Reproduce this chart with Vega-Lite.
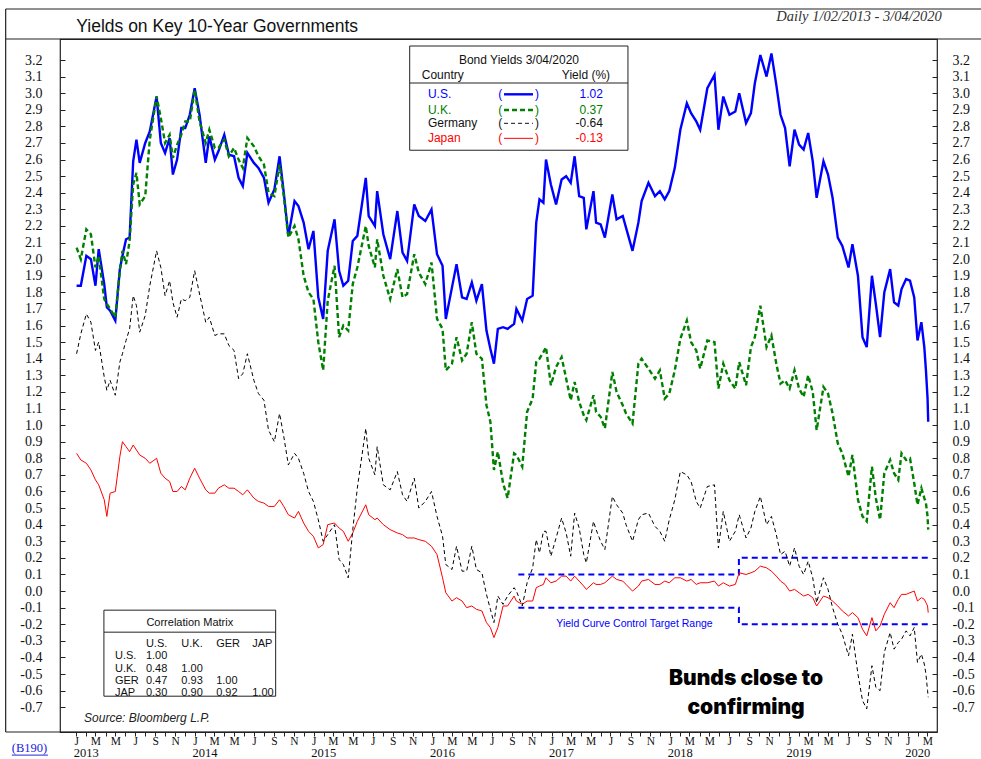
{
"$schema":"https://vega.github.io/schema/vega-lite/v6.json",
"width":877,"height":693,
"autosize":{"type":"none"},
"padding":{"left":60,"top":39,"right":44,"bottom":27},
"background":"white",
"config":{"view":{"stroke":"#222","strokeWidth":1.2},"axis":{"grid":false,"title":null}},
"datasets":{
"yld":[
{"d":"2013-01-02","us":1.84,"uk":2.07,"ger":1.43,"jp":0.83},
{"d":"2013-01-15","us":1.84,"uk":2.00,"ger":1.55,"jp":0.79},
{"d":"2013-02-01","us":2.02,"uk":2.18,"ger":1.67,"jp":0.77},
{"d":"2013-02-15","us":2.00,"uk":2.15,"ger":1.62,"jp":0.73},
{"d":"2013-03-01","us":1.84,"uk":1.95,"ger":1.45,"jp":0.67},
{"d":"2013-03-11","us":2.06,"uk":2.02,"ger":1.50,"jp":0.64},
{"d":"2013-03-28","us":1.85,"uk":1.76,"ger":1.29,"jp":0.55},
{"d":"2013-04-05","us":1.71,"uk":1.73,"ger":1.21,"jp":0.45},
{"d":"2013-04-15","us":1.69,"uk":1.70,"ger":1.27,"jp":0.59},
{"d":"2013-05-01","us":1.63,"uk":1.65,"ger":1.18,"jp":0.60},
{"d":"2013-05-15","us":1.94,"uk":1.93,"ger":1.38,"jp":0.81},
{"d":"2013-05-23","us":2.02,"uk":2.05,"ger":1.43,"jp":0.90},
{"d":"2013-06-03","us":2.12,"uk":1.97,"ger":1.51,"jp":0.87},
{"d":"2013-06-14","us":2.13,"uk":2.11,"ger":1.58,"jp":0.84},
{"d":"2013-06-25","us":2.59,"uk":2.45,"ger":1.78,"jp":0.88},
{"d":"2013-07-05","us":2.72,"uk":2.52,"ger":1.72,"jp":0.85},
{"d":"2013-07-15","us":2.58,"uk":2.33,"ger":1.56,"jp":0.82},
{"d":"2013-08-01","us":2.70,"uk":2.38,"ger":1.66,"jp":0.80},
{"d":"2013-08-15","us":2.77,"uk":2.72,"ger":1.84,"jp":0.77},
{"d":"2013-09-05","us":2.98,"uk":2.98,"ger":2.05,"jp":0.80},
{"d":"2013-09-18","us":2.70,"uk":2.85,"ger":1.95,"jp":0.71},
{"d":"2013-10-01","us":2.64,"uk":2.70,"ger":1.78,"jp":0.68},
{"d":"2013-10-15","us":2.73,"uk":2.75,"ger":1.87,"jp":0.66},
{"d":"2013-10-25","us":2.51,"uk":2.61,"ger":1.74,"jp":0.60},
{"d":"2013-11-07","us":2.60,"uk":2.69,"ger":1.65,"jp":0.60},
{"d":"2013-11-20","us":2.79,"uk":2.75,"ger":1.76,"jp":0.63},
{"d":"2013-12-02","us":2.79,"uk":2.83,"ger":1.75,"jp":0.61},
{"d":"2013-12-16","us":2.87,"uk":2.83,"ger":1.77,"jp":0.68},
{"d":"2013-12-31","us":3.03,"uk":3.02,"ger":1.93,"jp":0.74},
{"d":"2014-01-15","us":2.87,"uk":2.83,"ger":1.79,"jp":0.68},
{"d":"2014-02-03","us":2.58,"uk":2.70,"ger":1.62,"jp":0.61},
{"d":"2014-02-14","us":2.74,"uk":2.78,"ger":1.65,"jp":0.59},
{"d":"2014-03-03","us":2.60,"uk":2.67,"ger":1.54,"jp":0.59},
{"d":"2014-03-14","us":2.65,"uk":2.67,"ger":1.55,"jp":0.62},
{"d":"2014-04-01","us":2.75,"uk":2.72,"ger":1.55,"jp":0.64},
{"d":"2014-04-15","us":2.63,"uk":2.62,"ger":1.48,"jp":0.62},
{"d":"2014-05-01","us":2.62,"uk":2.67,"ger":1.45,"jp":0.62},
{"d":"2014-05-15","us":2.49,"uk":2.60,"ger":1.28,"jp":0.60},
{"d":"2014-05-28","us":2.44,"uk":2.55,"ger":1.31,"jp":0.58},
{"d":"2014-06-11","us":2.64,"uk":2.73,"ger":1.43,"jp":0.61},
{"d":"2014-07-01","us":2.58,"uk":2.68,"ger":1.27,"jp":0.56},
{"d":"2014-07-15","us":2.55,"uk":2.62,"ger":1.19,"jp":0.54},
{"d":"2014-08-01","us":2.49,"uk":2.57,"ger":1.15,"jp":0.53},
{"d":"2014-08-15","us":2.34,"uk":2.40,"ger":0.97,"jp":0.51},
{"d":"2014-09-02","us":2.42,"uk":2.38,"ger":0.90,"jp":0.51},
{"d":"2014-09-18","us":2.62,"uk":2.57,"ger":1.07,"jp":0.55},
{"d":"2014-10-01","us":2.40,"uk":2.38,"ger":0.93,"jp":0.51},
{"d":"2014-10-15","us":2.14,"uk":2.13,"ger":0.76,"jp":0.46},
{"d":"2014-11-03","us":2.35,"uk":2.20,"ger":0.83,"jp":0.44},
{"d":"2014-11-15","us":2.32,"uk":2.12,"ger":0.80,"jp":0.48},
{"d":"2014-12-01","us":2.22,"uk":1.90,"ger":0.71,"jp":0.41},
{"d":"2014-12-16","us":2.06,"uk":1.80,"ger":0.60,"jp":0.36},
{"d":"2014-12-31","us":2.17,"uk":1.76,"ger":0.54,"jp":0.33},
{"d":"2015-01-15","us":1.77,"uk":1.50,"ger":0.43,"jp":0.26},
{"d":"2015-01-30","us":1.64,"uk":1.33,"ger":0.30,"jp":0.28},
{"d":"2015-02-13","us":2.05,"uk":1.75,"ger":0.34,"jp":0.40},
{"d":"2015-03-06","us":2.24,"uk":1.96,"ger":0.40,"jp":0.41},
{"d":"2015-03-20","us":1.93,"uk":1.53,"ger":0.19,"jp":0.38},
{"d":"2015-04-02","us":1.84,"uk":1.60,"ger":0.16,"jp":0.36},
{"d":"2015-04-17","us":1.87,"uk":1.57,"ger":0.08,"jp":0.30},
{"d":"2015-05-01","us":2.11,"uk":1.85,"ger":0.37,"jp":0.35},
{"d":"2015-05-15","us":2.14,"uk":1.95,"ger":0.62,"jp":0.42},
{"d":"2015-06-10","us":2.49,"uk":2.20,"ger":0.98,"jp":0.52},
{"d":"2015-06-19","us":2.26,"uk":2.08,"ger":0.80,"jp":0.46},
{"d":"2015-07-08","us":2.20,"uk":1.95,"ger":0.70,"jp":0.43},
{"d":"2015-07-15","us":2.41,"uk":2.12,"ger":0.87,"jp":0.44},
{"d":"2015-08-03","us":2.15,"uk":1.90,"ger":0.64,"jp":0.40},
{"d":"2015-08-24","us":2.00,"uk":1.76,"ger":0.61,"jp":0.37},
{"d":"2015-09-15","us":2.29,"uk":1.94,"ger":0.72,"jp":0.35},
{"d":"2015-10-01","us":2.04,"uk":1.77,"ger":0.58,"jp":0.34},
{"d":"2015-10-15","us":1.99,"uk":1.79,"ger":0.54,"jp":0.32},
{"d":"2015-11-06","us":2.33,"uk":2.03,"ger":0.68,"jp":0.32},
{"d":"2015-11-20","us":2.26,"uk":1.92,"ger":0.50,"jp":0.31},
{"d":"2015-12-10","us":2.23,"uk":1.85,"ger":0.54,"jp":0.30},
{"d":"2015-12-29","us":2.30,"uk":1.98,"ger":0.60,"jp":0.27},
{"d":"2016-01-15","us":2.03,"uk":1.64,"ger":0.45,"jp":0.22},
{"d":"2016-02-01","us":1.96,"uk":1.58,"ger":0.33,"jp":0.08},
{"d":"2016-02-11","us":1.64,"uk":1.33,"ger":0.16,"jp":-0.01},
{"d":"2016-03-01","us":1.83,"uk":1.37,"ger":0.13,"jp":-0.06},
{"d":"2016-03-15","us":1.97,"uk":1.53,"ger":0.27,"jp":-0.04},
{"d":"2016-04-01","us":1.77,"uk":1.39,"ger":0.12,"jp":-0.06},
{"d":"2016-04-15","us":1.76,"uk":1.43,"ger":0.12,"jp":-0.10},
{"d":"2016-05-01","us":1.86,"uk":1.62,"ger":0.27,"jp":-0.09},
{"d":"2016-05-15","us":1.75,"uk":1.43,"ger":0.13,"jp":-0.11},
{"d":"2016-06-01","us":1.85,"uk":1.40,"ger":0.11,"jp":-0.12},
{"d":"2016-06-15","us":1.57,"uk":1.12,"ger":-0.02,"jp":-0.19},
{"d":"2016-06-27","us":1.46,"uk":1.02,"ger":-0.11,"jp":-0.22},
{"d":"2016-07-08","us":1.37,"uk":0.73,"ger":-0.19,"jp":-0.28},
{"d":"2016-07-20","us":1.58,"uk":0.84,"ger":-0.03,"jp":-0.22},
{"d":"2016-08-05","us":1.59,"uk":0.65,"ger":-0.08,"jp":-0.09},
{"d":"2016-08-19","us":1.58,"uk":0.56,"ger":-0.03,"jp":-0.09},
{"d":"2016-09-08","us":1.61,"uk":0.83,"ger":0.02,"jp":-0.03},
{"d":"2016-09-15","us":1.70,"uk":0.82,"ger":0.00,"jp":-0.06},
{"d":"2016-10-03","us":1.63,"uk":0.75,"ger":-0.09,"jp":-0.08},
{"d":"2016-10-18","us":1.76,"uk":1.08,"ger":0.05,"jp":-0.06},
{"d":"2016-11-04","us":1.78,"uk":1.16,"ger":0.14,"jp":-0.06},
{"d":"2016-11-15","us":2.22,"uk":1.38,"ger":0.31,"jp":0.02},
{"d":"2016-11-25","us":2.36,"uk":1.40,"ger":0.23,"jp":0.03},
{"d":"2016-12-07","us":2.34,"uk":1.44,"ger":0.36,"jp":0.04},
{"d":"2016-12-15","us":2.60,"uk":1.47,"ger":0.36,"jp":0.08},
{"d":"2016-12-30","us":2.45,"uk":1.24,"ger":0.21,"jp":0.05},
{"d":"2017-01-15","us":2.33,"uk":1.35,"ger":0.32,"jp":0.06},
{"d":"2017-02-01","us":2.48,"uk":1.41,"ger":0.44,"jp":0.09},
{"d":"2017-02-15","us":2.50,"uk":1.28,"ger":0.35,"jp":0.09},
{"d":"2017-03-01","us":2.46,"uk":1.15,"ger":0.21,"jp":0.06},
{"d":"2017-03-13","us":2.62,"uk":1.26,"ger":0.47,"jp":0.09},
{"d":"2017-03-27","us":2.38,"uk":1.14,"ger":0.38,"jp":0.06},
{"d":"2017-04-10","us":2.37,"uk":1.06,"ger":0.22,"jp":0.03},
{"d":"2017-04-18","us":2.18,"uk":1.03,"ger":0.17,"jp":0.01},
{"d":"2017-05-10","us":2.41,"uk":1.18,"ger":0.42,"jp":0.05},
{"d":"2017-05-18","us":2.22,"uk":1.08,"ger":0.37,"jp":0.04},
{"d":"2017-06-01","us":2.21,"uk":1.05,"ger":0.30,"jp":0.04},
{"d":"2017-06-14","us":2.13,"uk":0.98,"ger":0.25,"jp":0.05},
{"d":"2017-07-07","us":2.39,"uk":1.32,"ger":0.57,"jp":0.09},
{"d":"2017-07-20","us":2.24,"uk":1.20,"ger":0.52,"jp":0.07},
{"d":"2017-08-08","us":2.26,"uk":1.12,"ger":0.47,"jp":0.06},
{"d":"2017-08-18","us":2.19,"uk":1.07,"ger":0.40,"jp":0.04},
{"d":"2017-09-07","us":2.05,"uk":1.01,"ger":0.30,"jp":0.00},
{"d":"2017-09-25","us":2.22,"uk":1.37,"ger":0.43,"jp":0.03},
{"d":"2017-10-05","us":2.35,"uk":1.40,"ger":0.46,"jp":0.06},
{"d":"2017-10-26","us":2.46,"uk":1.34,"ger":0.47,"jp":0.07},
{"d":"2017-11-15","us":2.38,"uk":1.28,"ger":0.39,"jp":0.04},
{"d":"2017-11-30","us":2.41,"uk":1.33,"ger":0.36,"jp":0.04},
{"d":"2017-12-15","us":2.36,"uk":1.16,"ger":0.30,"jp":0.06},
{"d":"2017-12-29","us":2.41,"uk":1.19,"ger":0.43,"jp":0.05},
{"d":"2018-01-15","us":2.55,"uk":1.33,"ger":0.55,"jp":0.08},
{"d":"2018-02-01","us":2.78,"uk":1.52,"ger":0.72,"jp":0.08},
{"d":"2018-02-21","us":2.94,"uk":1.63,"ger":0.70,"jp":0.06},
{"d":"2018-03-06","us":2.88,"uk":1.50,"ger":0.66,"jp":0.07},
{"d":"2018-03-22","us":2.83,"uk":1.45,"ger":0.54,"jp":0.04},
{"d":"2018-04-03","us":2.78,"uk":1.34,"ger":0.50,"jp":0.05},
{"d":"2018-04-25","us":3.03,"uk":1.51,"ger":0.63,"jp":0.05},
{"d":"2018-05-17","us":3.11,"uk":1.50,"ger":0.64,"jp":0.06},
{"d":"2018-05-29","us":2.78,"uk":1.22,"ger":0.26,"jp":0.03},
{"d":"2018-06-13","us":2.98,"uk":1.37,"ger":0.48,"jp":0.05},
{"d":"2018-07-02","us":2.87,"uk":1.27,"ger":0.30,"jp":0.03},
{"d":"2018-07-20","us":2.89,"uk":1.22,"ger":0.36,"jp":0.04},
{"d":"2018-08-01","us":3.00,"uk":1.38,"ger":0.46,"jp":0.11},
{"d":"2018-08-22","us":2.82,"uk":1.24,"ger":0.32,"jp":0.10},
{"d":"2018-09-06","us":2.88,"uk":1.47,"ger":0.38,"jp":0.11},
{"d":"2018-09-18","us":3.06,"uk":1.53,"ger":0.48,"jp":0.12},
{"d":"2018-10-05","us":3.23,"uk":1.72,"ger":0.57,"jp":0.15},
{"d":"2018-10-24","us":3.10,"uk":1.47,"ger":0.40,"jp":0.14},
{"d":"2018-11-08","us":3.24,"uk":1.54,"ger":0.45,"jp":0.12},
{"d":"2018-11-23","us":3.05,"uk":1.37,"ger":0.34,"jp":0.09},
{"d":"2018-12-06","us":2.87,"uk":1.25,"ger":0.22,"jp":0.06},
{"d":"2018-12-20","us":2.79,"uk":1.27,"ger":0.24,"jp":0.04},
{"d":"2019-01-03","us":2.56,"uk":1.22,"ger":0.15,"jp":0.00},
{"d":"2019-01-18","us":2.78,"uk":1.33,"ger":0.26,"jp":0.01},
{"d":"2019-02-01","us":2.69,"uk":1.22,"ger":0.15,"jp":-0.01},
{"d":"2019-02-15","us":2.66,"uk":1.17,"ger":0.10,"jp":-0.03},
{"d":"2019-03-01","us":2.76,"uk":1.30,"ger":0.18,"jp":-0.02},
{"d":"2019-03-15","us":2.59,"uk":1.20,"ger":0.08,"jp":-0.04},
{"d":"2019-03-27","us":2.37,"uk":0.97,"ger":-0.07,"jp":-0.09},
{"d":"2019-04-17","us":2.59,"uk":1.23,"ger":0.08,"jp":-0.03},
{"d":"2019-05-01","us":2.51,"uk":1.19,"ger":0.01,"jp":-0.04},
{"d":"2019-05-15","us":2.37,"uk":1.07,"ger":-0.10,"jp":-0.06},
{"d":"2019-05-31","us":2.13,"uk":0.89,"ger":-0.20,"jp":-0.09},
{"d":"2019-06-14","us":2.08,"uk":0.83,"ger":-0.26,"jp":-0.12},
{"d":"2019-07-03","us":1.95,"uk":0.69,"ger":-0.39,"jp":-0.15},
{"d":"2019-07-15","us":2.09,"uk":0.82,"ger":-0.26,"jp":-0.13},
{"d":"2019-08-01","us":1.90,"uk":0.55,"ger":-0.50,"jp":-0.16},
{"d":"2019-08-15","us":1.53,"uk":0.45,"ger":-0.66,"jp":-0.23},
{"d":"2019-08-28","us":1.47,"uk":0.42,"ger":-0.71,"jp":-0.27},
{"d":"2019-09-13","us":1.90,"uk":0.75,"ger":-0.45,"jp":-0.16},
{"d":"2019-09-25","us":1.73,"uk":0.56,"ger":-0.58,"jp":-0.24},
{"d":"2019-10-08","us":1.53,"uk":0.43,"ger":-0.60,"jp":-0.21},
{"d":"2019-10-21","us":1.80,"uk":0.71,"ger":-0.37,"jp":-0.14},
{"d":"2019-11-08","us":1.94,"uk":0.79,"ger":-0.25,"jp":-0.07},
{"d":"2019-11-20","us":1.74,"uk":0.71,"ger":-0.35,"jp":-0.10},
{"d":"2019-12-03","us":1.72,"uk":0.67,"ger":-0.31,"jp":-0.05},
{"d":"2019-12-13","us":1.82,"uk":0.83,"ger":-0.29,"jp":-0.02},
{"d":"2019-12-27","us":1.88,"uk":0.79,"ger":-0.24,"jp":-0.02},
{"d":"2020-01-08","us":1.87,"uk":0.80,"ger":-0.27,"jp":-0.01},
{"d":"2020-01-21","us":1.77,"uk":0.65,"ger":-0.22,"jp":0.00},
{"d":"2020-01-31","us":1.51,"uk":0.52,"ger":-0.43,"jp":-0.06},
{"d":"2020-02-12","us":1.62,"uk":0.62,"ger":-0.38,"jp":-0.04},
{"d":"2020-02-21","us":1.47,"uk":0.56,"ger":-0.44,"jp":-0.05},
{"d":"2020-02-26","us":1.33,"uk":0.53,"ger":-0.50,"jp":-0.07},
{"d":"2020-03-02","us":1.16,"uk":0.45,"ger":-0.60,"jp":-0.09},
{"d":"2020-03-04","us":1.02,"uk":0.37,"ger":-0.64,"jp":-0.13}
],
"ycc":[
{"g":"up","i":1,"d":"2016-09-21","v":0.1},{"g":"up","i":2,"d":"2018-07-31","v":0.1},{"g":"up","i":3,"d":"2018-07-31","v":0.2},{"g":"up","i":4,"d":"2020-03-04","v":0.2},
{"g":"lo","i":1,"d":"2016-09-21","v":-0.1},{"g":"lo","i":2,"d":"2018-07-31","v":-0.1},{"g":"lo","i":3,"d":"2018-07-31","v":-0.2},{"g":"lo","i":4,"d":"2020-03-04","v":-0.2}
]
},
"resolve":{"axis":{"x":"independent","y":"independent"}},
"layer":[
{"data":{"values":[{}]},"mark":{"type":"rule","color":"#222","strokeWidth":1.2},"encoding":{"x":{"datum":{"year":2012,"month":5,"date":29,"utc":true},"type":"temporal","axis":null},"x2":{"datum":{"year":2020,"month":8,"date":14,"utc":true}},"y":{"datum":3.5075,"type":"quantitative","axis":null}}},
{"data":{"values":[{}]},"mark":{"type":"rule","color":"#222","strokeWidth":1.2},"encoding":{"x":{"datum":{"year":2012,"month":5,"date":29,"utc":true},"type":"temporal","axis":null},"x2":{"datum":{"year":2020,"month":8,"date":14,"utc":true}},"y":{"datum":3.3267,"type":"quantitative","axis":null}}},
{"data":{"values":[{}]},"mark":{"type":"rule","color":"#222","strokeWidth":1.2},"encoding":{"x":{"datum":{"year":2012,"month":5,"date":29,"utc":true},"type":"temporal","axis":null},"x2":{"datum":{"year":2020,"month":3,"date":31,"utc":true}},"y":{"datum":-0.8493,"type":"quantitative","axis":null}}},
{"data":{"values":[{}]},"mark":{"type":"rule","color":"#222","strokeWidth":1.2},"encoding":{"x":{"datum":{"year":2012,"month":5,"date":29,"utc":true},"type":"temporal","axis":null},"y":{"datum":3.5075,"type":"quantitative","axis":null},"y2":{"datum":-0.8493}}},
{"data":{"name":"ycc"},"mark":{"type":"line","color":"#0000ff","strokeWidth":2,"strokeDash":[6,4]},"encoding":{"x":{"field":"d","type":"temporal","axis":null},"y":{"field":"v","type":"quantitative","axis":null},"detail":{"field":"g"},"order":{"field":"i"}}},
{"data":{"name":"yld"},"mark":{"type":"line","color":"#ff0000","strokeWidth":1},"encoding":{"x":{"field":"d","type":"temporal","axis":null},"y":{"field":"jp","type":"quantitative","axis":null}}},
{"data":{"name":"yld"},"mark":{"type":"line","color":"#000000","strokeWidth":1,"strokeDash":[4,3]},"encoding":{"x":{"field":"d","type":"temporal","axis":null},"y":{"field":"ger","type":"quantitative","axis":null}}},
{"data":{"name":"yld"},"mark":{"type":"line","color":"#0000ff","strokeWidth":2.4},"encoding":{
"x":{"field":"d","type":"temporal","scale":{"type":"utc","domain":[{"year":2012,"month":11,"date":12,"utc":true},{"year":2020,"month":3,"date":31,"utc":true}]},
"axis":{"orient":"bottom","tickCount":{"interval":"month","step":1},"labelExpr":"utcmonth(datum.value) % 2 == 0 ? substring(utcFormat(datum.value, '%b'), 0, 1) : ''","tickSize":4,"tickColor":{"condition":{"test":"datum.value < utc(2013,0,1)","value":"transparent"},"value":"#222"},"labelPadding":-1,"labelFont":"Liberation Serif","labelFontSize":11.5,"labelColor":"#111","labelFlush":false,"labelOverlap":false,"labelBound":false,"domain":false,"grid":false,"title":null}},
"y":{"field":"us","type":"quantitative","scale":{"domain":[-0.8493,3.3267],"nice":false,"zero":false},
"axis":{"orient":"left","values":[-0.7,-0.6,-0.5,-0.4,-0.3,-0.2,-0.1,0,0.1,0.2,0.3,0.4,0.5,0.6,0.7,0.8,0.9,1,1.1,1.2,1.3,1.4,1.5,1.6,1.7,1.8,1.9,2,2.1,2.2,2.3,2.4,2.5,2.6,2.7,2.8,2.9,3,3.1,3.2],"labelExpr":"datum.value < 0 ? '-' + format(-datum.value, '.1f') : format(datum.value, '.1f')","tickSize":-5,"tickColor":"#222","labelPadding":23,"labelFont":"Liberation Serif","labelFontSize":14,"labelColor":"#111","domain":false,"grid":false,"title":null,"labelOverlap":false,"labelBound":false,"labelFlush":false}}}},
{"data":{"name":"yld"},"mark":{"type":"line","color":"#008000","strokeWidth":2.4,"strokeDash":[5,3]},"encoding":{
"x":{"field":"d","type":"temporal","scale":{"type":"utc","domain":[{"year":2012,"month":11,"date":12,"utc":true},{"year":2020,"month":3,"date":31,"utc":true}]},
"axis":{"orient":"bottom","tickCount":{"interval":"year","step":1},"labelExpr":"utcFormat(datum.value, '%Y')","ticks":false,"domain":false,"grid":false,"labelPadding":14.5,"labelAlign":"left","labelOffset":-3,"labelFont":"Liberation Serif","labelFontSize":12.5,"labelColor":"#111","labelFlush":false,"labelOverlap":false,"labelBound":false,"title":null}},
"y":{"field":"uk","type":"quantitative","scale":{"domain":[-0.8493,3.3267],"nice":false,"zero":false},
"axis":{"orient":"right","values":[-0.7,-0.6,-0.5,-0.4,-0.3,-0.2,-0.1,0,0.1,0.2,0.3,0.4,0.5,0.6,0.7,0.8,0.9,1,1.1,1.2,1.3,1.4,1.5,1.6,1.7,1.8,1.9,2,2.1,2.2,2.3,2.4,2.5,2.6,2.7,2.8,2.9,3,3.1,3.2],"labelExpr":"datum.value < 0 ? '-' + format(-datum.value, '.1f') : format(datum.value, '.1f')","tickSize":-5,"tickColor":"#222","labelPadding":20,"labelFont":"Liberation Serif","labelFontSize":14,"labelColor":"#111","domain":false,"grid":false,"title":null,"labelOverlap":false,"labelBound":false,"labelFlush":false}}}},

{"data":{"values":[{}]},"mark":{"type":"rect","fill":"white","stroke":"#222","strokeWidth":1},"encoding":{"x":{"datum":{"year":2015,"month":10,"date":23,"utc":true},"type":"temporal","axis":null},"x2":{"datum":{"year":2017,"month":8,"date":24,"utc":true}},"y":{"datum":3.2845,"type":"quantitative","axis":null},"y2":{"datum":2.6564}}},
{"data":{"values":[{}]},"mark":{"type":"rule","color":"#222","strokeWidth":1},"encoding":{"x":{"datum":{"year":2015,"month":10,"date":23,"utc":true},"type":"temporal","axis":null},"x2":{"datum":{"year":2017,"month":8,"date":24,"utc":true}},"y":{"datum":3.0615,"type":"quantitative","axis":null}}},
{"data":{"values":[{}]},"mark":{"type":"text","text":"Bond Yields 3/04/2020","font":"Liberation Sans","fontSize":12,"align":"center","baseline":"middle","color":"#111"},"encoding":{"x":{"datum":{"year":2016,"month":9,"date":23,"utc":true},"type":"temporal","axis":null},"y":{"datum":3.2001,"type":"quantitative","axis":null}}},
{"data":{"values":[{}]},"mark":{"type":"text","text":"Country","font":"Liberation Sans","fontSize":12,"align":"left","baseline":"middle","color":"#111"},"encoding":{"x":{"datum":{"year":2015,"month":11,"date":29,"utc":true},"type":"temporal","axis":null},"y":{"datum":3.1097,"type":"quantitative","axis":null}}},
{"data":{"values":[{}]},"mark":{"type":"text","text":"Yield (%)","font":"Liberation Sans","fontSize":12,"align":"right","baseline":"middle","color":"#111"},"encoding":{"x":{"datum":{"year":2017,"month":6,"date":30,"utc":true},"type":"temporal","axis":null},"y":{"datum":3.1097,"type":"quantitative","axis":null}}},

{"data":{"values":[{}]},"mark":{"type":"text","text":"U.S.","font":"Liberation Sans","fontSize":12,"align":"left","baseline":"middle","color":"#0000ff"},"encoding":{"x":{"datum":{"year":2015,"month":12,"date":18,"utc":true},"type":"temporal","axis":null},"y":{"datum":2.9934,"type":"quantitative","axis":null}}},
{"data":{"values":[{}]},"mark":{"type":"text","text":"(","font":"Liberation Sans","fontSize":12,"align":"center","baseline":"middle","color":"#0000ff"},"encoding":{"x":{"datum":{"year":2016,"month":7,"date":27,"utc":true},"type":"temporal","axis":null},"y":{"datum":2.9934,"type":"quantitative","axis":null}}},
{"data":{"values":[{}]},"mark":{"type":"text","text":")","font":"Liberation Sans","fontSize":12,"align":"center","baseline":"middle","color":"#0000ff"},"encoding":{"x":{"datum":{"year":2016,"month":11,"date":17,"utc":true},"type":"temporal","axis":null},"y":{"datum":2.9934,"type":"quantitative","axis":null}}},
{"data":{"values":[{}]},"mark":{"type":"rule","color":"#0000ff","strokeWidth":2.4},"encoding":{"x":{"datum":{"year":2016,"month":8,"date":8,"utc":true},"type":"temporal","axis":null},"x2":{"datum":{"year":2016,"month":11,"date":5,"utc":true}},"y":{"datum":2.9934,"type":"quantitative","axis":null}}},
{"data":{"values":[{}]},"mark":{"type":"text","text":"1.02","font":"Liberation Sans","fontSize":12,"align":"right","baseline":"middle","color":"#0000ff"},"encoding":{"x":{"datum":{"year":2017,"month":6,"date":8,"utc":true},"type":"temporal","axis":null},"y":{"datum":2.9934,"type":"quantitative","axis":null}}},

{"data":{"values":[{}]},"mark":{"type":"text","text":"U.K.","font":"Liberation Sans","fontSize":12,"align":"left","baseline":"middle","color":"#008000"},"encoding":{"x":{"datum":{"year":2015,"month":12,"date":18,"utc":true},"type":"temporal","axis":null},"y":{"datum":2.8987,"type":"quantitative","axis":null}}},
{"data":{"values":[{}]},"mark":{"type":"text","text":"(","font":"Liberation Sans","fontSize":12,"align":"center","baseline":"middle","color":"#008000"},"encoding":{"x":{"datum":{"year":2016,"month":7,"date":27,"utc":true},"type":"temporal","axis":null},"y":{"datum":2.8987,"type":"quantitative","axis":null}}},
{"data":{"values":[{}]},"mark":{"type":"text","text":")","font":"Liberation Sans","fontSize":12,"align":"center","baseline":"middle","color":"#008000"},"encoding":{"x":{"datum":{"year":2016,"month":11,"date":17,"utc":true},"type":"temporal","axis":null},"y":{"datum":2.8987,"type":"quantitative","axis":null}}},
{"data":{"values":[{}]},"mark":{"type":"rule","color":"#008000","strokeWidth":2.4,"strokeDash":[5,3]},"encoding":{"x":{"datum":{"year":2016,"month":8,"date":8,"utc":true},"type":"temporal","axis":null},"x2":{"datum":{"year":2016,"month":11,"date":5,"utc":true}},"y":{"datum":2.8987,"type":"quantitative","axis":null}}},
{"data":{"values":[{}]},"mark":{"type":"text","text":"0.37","font":"Liberation Sans","fontSize":12,"align":"right","baseline":"middle","color":"#008000"},"encoding":{"x":{"datum":{"year":2017,"month":6,"date":8,"utc":true},"type":"temporal","axis":null},"y":{"datum":2.8987,"type":"quantitative","axis":null}}},

{"data":{"values":[{}]},"mark":{"type":"text","text":"Germany","font":"Liberation Sans","fontSize":12,"align":"left","baseline":"middle","color":"#111"},"encoding":{"x":{"datum":{"year":2015,"month":12,"date":18,"utc":true},"type":"temporal","axis":null},"y":{"datum":2.8186,"type":"quantitative","axis":null}}},
{"data":{"values":[{}]},"mark":{"type":"text","text":"(","font":"Liberation Sans","fontSize":12,"align":"center","baseline":"middle","color":"#111"},"encoding":{"x":{"datum":{"year":2016,"month":7,"date":27,"utc":true},"type":"temporal","axis":null},"y":{"datum":2.8186,"type":"quantitative","axis":null}}},
{"data":{"values":[{}]},"mark":{"type":"text","text":")","font":"Liberation Sans","fontSize":12,"align":"center","baseline":"middle","color":"#111"},"encoding":{"x":{"datum":{"year":2016,"month":11,"date":17,"utc":true},"type":"temporal","axis":null},"y":{"datum":2.8186,"type":"quantitative","axis":null}}},
{"data":{"values":[{}]},"mark":{"type":"rule","color":"#111","strokeWidth":1,"strokeDash":[4,3]},"encoding":{"x":{"datum":{"year":2016,"month":8,"date":8,"utc":true},"type":"temporal","axis":null},"x2":{"datum":{"year":2016,"month":11,"date":5,"utc":true}},"y":{"datum":2.8186,"type":"quantitative","axis":null}}},
{"data":{"values":[{}]},"mark":{"type":"text","text":"-0.64","font":"Liberation Sans","fontSize":12,"align":"right","baseline":"middle","color":"#111"},"encoding":{"x":{"datum":{"year":2017,"month":6,"date":8,"utc":true},"type":"temporal","axis":null},"y":{"datum":2.8186,"type":"quantitative","axis":null}}},

{"data":{"values":[{}]},"mark":{"type":"text","text":"Japan","font":"Liberation Sans","fontSize":12,"align":"left","baseline":"middle","color":"#ff0000"},"encoding":{"x":{"datum":{"year":2015,"month":12,"date":18,"utc":true},"type":"temporal","axis":null},"y":{"datum":2.7281,"type":"quantitative","axis":null}}},
{"data":{"values":[{}]},"mark":{"type":"text","text":"(","font":"Liberation Sans","fontSize":12,"align":"center","baseline":"middle","color":"#ff0000"},"encoding":{"x":{"datum":{"year":2016,"month":7,"date":27,"utc":true},"type":"temporal","axis":null},"y":{"datum":2.7281,"type":"quantitative","axis":null}}},
{"data":{"values":[{}]},"mark":{"type":"text","text":")","font":"Liberation Sans","fontSize":12,"align":"center","baseline":"middle","color":"#ff0000"},"encoding":{"x":{"datum":{"year":2016,"month":11,"date":17,"utc":true},"type":"temporal","axis":null},"y":{"datum":2.7281,"type":"quantitative","axis":null}}},
{"data":{"values":[{}]},"mark":{"type":"rule","color":"#ff0000","strokeWidth":1},"encoding":{"x":{"datum":{"year":2016,"month":8,"date":8,"utc":true},"type":"temporal","axis":null},"x2":{"datum":{"year":2016,"month":11,"date":5,"utc":true}},"y":{"datum":2.7281,"type":"quantitative","axis":null}}},
{"data":{"values":[{}]},"mark":{"type":"text","text":"-0.13","font":"Liberation Sans","fontSize":12,"align":"right","baseline":"middle","color":"#ff0000"},"encoding":{"x":{"datum":{"year":2017,"month":6,"date":8,"utc":true},"type":"temporal","axis":null},"y":{"datum":2.7281,"type":"quantitative","axis":null}}},

{"data":{"values":[{}]},"mark":{"type":"rect","fill":"white","stroke":"#222","strokeWidth":1},"encoding":{"x":{"datum":{"year":2013,"month":3,"date":27,"utc":true},"type":"temporal","axis":null},"x2":{"datum":{"year":2014,"month":9,"date":6,"utc":true}},"y":{"datum":-0.1151,"type":"quantitative","axis":null},"y2":{"datum":-0.6335}}},
{"data":{"values":[{}]},"mark":{"type":"rule","color":"#222","strokeWidth":1},"encoding":{"x":{"datum":{"year":2013,"month":3,"date":27,"utc":true},"type":"temporal","axis":null},"x2":{"datum":{"year":2014,"month":9,"date":6,"utc":true}},"y":{"datum":-0.2477,"type":"quantitative","axis":null}}},
{"data":{"values":[{}]},"mark":{"type":"text","text":"Correlation Matrix","font":"Liberation Sans","fontSize":11,"align":"center","baseline":"middle","color":"#111"},"encoding":{"x":{"datum":{"year":2013,"month":12,"date":16,"utc":true},"type":"temporal","axis":null},"y":{"datum":-0.1935,"type":"quantitative","axis":null}}},
{"data":{"values":[{}]},"mark":{"type":"text","text":["U.S.","U.K.","GER","JAP"],"lineHeight":12.3,"font":"Liberation Sans","fontSize":11,"align":"left","baseline":"top","color":"#111"},"encoding":{"x":{"datum":{"year":2013,"month":4,"date":30,"utc":true},"type":"temporal","axis":null},"y":{"datum":-0.358,"type":"quantitative","axis":null}}},
{"data":{"values":[{}]},"mark":{"type":"text","text":["U.S.","1.00","0.48","0.47","0.30"],"lineHeight":12.3,"font":"Liberation Sans","fontSize":11,"align":"left","baseline":"top","color":"#111"},"encoding":{"x":{"datum":{"year":2013,"month":8,"date":3,"utc":true},"type":"temporal","axis":null},"y":{"datum":-0.2839,"type":"quantitative","axis":null}}},
{"data":{"values":[{}]},"mark":{"type":"text","text":"U.K.","font":"Liberation Sans","fontSize":11,"align":"left","baseline":"top","color":"#111"},"encoding":{"x":{"datum":{"year":2013,"month":11,"date":20,"utc":true},"type":"temporal","axis":null},"y":{"datum":-0.2839,"type":"quantitative","axis":null}}},
{"data":{"values":[{}]},"mark":{"type":"text","text":["1.00","0.93","0.90"],"lineHeight":12.3,"font":"Liberation Sans","fontSize":11,"align":"left","baseline":"top","color":"#111"},"encoding":{"x":{"datum":{"year":2013,"month":11,"date":20,"utc":true},"type":"temporal","axis":null},"y":{"datum":-0.4322,"type":"quantitative","axis":null}}},
{"data":{"values":[{}]},"mark":{"type":"text","text":"GER","font":"Liberation Sans","fontSize":11,"align":"left","baseline":"top","color":"#111"},"encoding":{"x":{"datum":{"year":2014,"month":3,"date":7,"utc":true},"type":"temporal","axis":null},"y":{"datum":-0.2839,"type":"quantitative","axis":null}}},
{"data":{"values":[{}]},"mark":{"type":"text","text":["1.00","0.92"],"lineHeight":12.3,"font":"Liberation Sans","fontSize":11,"align":"left","baseline":"top","color":"#111"},"encoding":{"x":{"datum":{"year":2014,"month":3,"date":7,"utc":true},"type":"temporal","axis":null},"y":{"datum":-0.5063,"type":"quantitative","axis":null}}},
{"data":{"values":[{}]},"mark":{"type":"text","text":"JAP","font":"Liberation Sans","fontSize":11,"align":"left","baseline":"top","color":"#111"},"encoding":{"x":{"datum":{"year":2014,"month":6,"date":26,"utc":true},"type":"temporal","axis":null},"y":{"datum":-0.2839,"type":"quantitative","axis":null}}},
{"data":{"values":[{}]},"mark":{"type":"text","text":"1.00","font":"Liberation Sans","fontSize":11,"align":"left","baseline":"top","color":"#111"},"encoding":{"x":{"datum":{"year":2014,"month":6,"date":26,"utc":true},"type":"temporal","axis":null},"y":{"datum":-0.5805,"type":"quantitative","axis":null}}},

{"data":{"values":[{}]},"mark":{"type":"text","text":"Source: Bloomberg L.P.","font":"Liberation Sans","fontSize":12,"fontStyle":"italic","align":"left","baseline":"middle","color":"#222"},"encoding":{"x":{"datum":{"year":2013,"month":1,"date":25,"utc":true},"type":"temporal","axis":null},"y":{"datum":-0.7661,"type":"quantitative","axis":null}}},
{"data":{"values":[{}]},"mark":{"type":"text","text":"Yield Curve Control Target Range","font":"Liberation Sans","fontSize":10.5,"align":"center","baseline":"middle","color":"#0000ff"},"encoding":{"x":{"datum":{"year":2017,"month":9,"date":13,"utc":true},"type":"temporal","axis":null},"y":{"datum":-0.1995,"type":"quantitative","axis":null}}},
{"data":{"values":[{}]},"mark":{"type":"text","text":["Bunds close to","confirming"],"lineHeight":29,"font":"Inter","fontWeight":900,"fontSize":21,"align":"center","baseline":"top","color":"#000"},"encoding":{"x":{"datum":{"year":2018,"month":8,"date":22,"utc":true},"type":"temporal","axis":null},"y":{"datum":-0.4611,"type":"quantitative","axis":null}}},
{"data":{"values":[{}]},"mark":{"type":"text","text":"Yields on Key 10-Year Governments","font":"Liberation Sans","fontSize":17.5,"align":"left","baseline":"middle","color":"#111"},"encoding":{"x":{"datum":{"year":2013,"month":1,"date":1,"utc":true},"type":"temporal","axis":null},"y":{"datum":3.3987,"type":"quantitative","axis":null}}},
{"data":{"values":[{}]},"mark":{"type":"text","text":"Daily 1/02/2013 - 3/04/2020","font":"Liberation Serif","fontSize":14.5,"fontStyle":"italic","align":"right","baseline":"middle","color":"#333"},"encoding":{"x":{"datum":{"year":2020,"month":4,"date":15,"utc":true},"type":"temporal","axis":null},"y":{"datum":3.462,"type":"quantitative","axis":null}}},
{"data":{"values":[{}]},"mark":{"type":"text","text":"(B190)","font":"Liberation Serif","fontSize":12.5,"align":"left","baseline":"middle","color":"#2222dd"},"encoding":{"x":{"datum":{"year":2012,"month":6,"date":17,"utc":true},"type":"temporal","axis":null},"y":{"datum":-0.9463,"type":"quantitative","axis":null}}},
{"data":{"values":[{}]},"mark":{"type":"rule","color":"#2222dd","strokeWidth":1},"encoding":{"x":{"datum":{"year":2012,"month":6,"date":17,"utc":true},"type":"temporal","axis":null},"x2":{"datum":{"year":2012,"month":10,"date":6,"utc":true}},"y":{"datum":-0.9885,"type":"quantitative","axis":null}}}
]
}
